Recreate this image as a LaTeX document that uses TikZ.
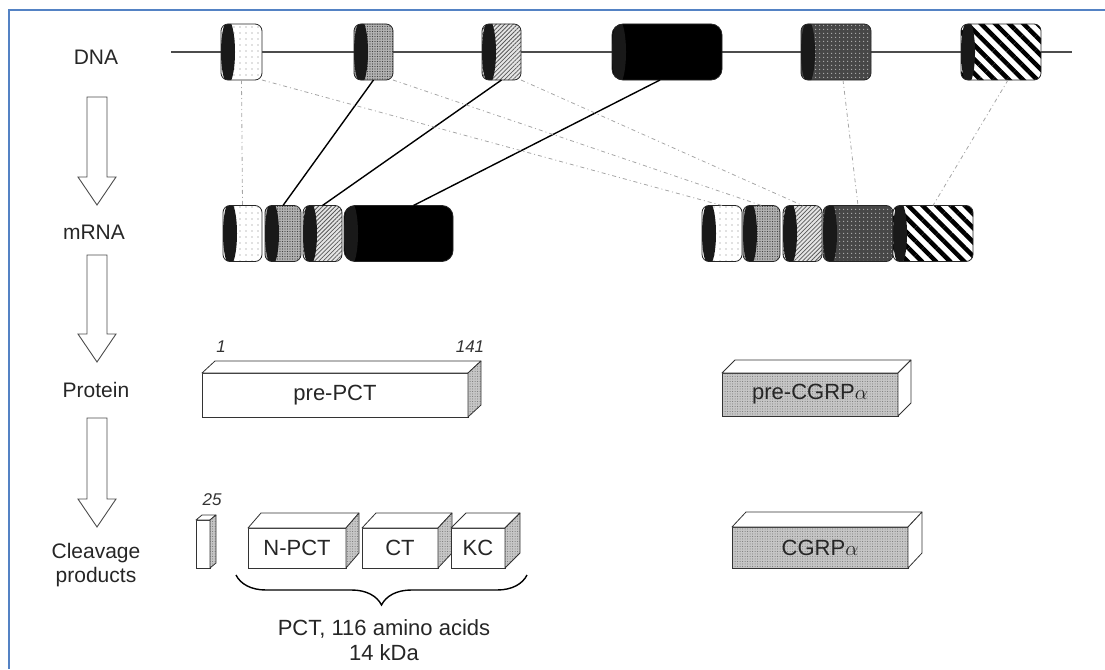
\documentclass[tikz,border=0pt]{standalone}
\usepackage{fontspec}
\setmainfont{Liberation Sans}
\usepackage{tikz}
\usetikzlibrary{positioning,calc,patterns.meta,decorations.pathreplacing}
\definecolor{frameblue}{RGB}{84,130,196}
\newcommand{\capr}{7pt}
% top and side faces of a flat 3D box drawn on a node
\newcommand{\boxfaces}[5]{%
  \draw[facedraw, #4] (#1.north west) -- ++(#2,-#3) -- ($(#1.north east)+(#2,-#3)$) -- (#1.north east) -- cycle;
  \draw[facedraw, #5] (#1.north east) -- ++(#2,-#3) -- ($(#1.south east)+(#2,-#3)$) -- (#1.south east) -- cycle;}
% hollow downward block arrow: x, tail y, tip y
\newcommand{\flowarrow}[3]{%
  \draw[blockarrow] (#1-10,#2) -- (#1+10,#2) -- (#1+10,#3-28) -- (#1+19,#3-28) -- (#1,#3)
                    -- (#1-19,#3-28) -- (#1-10,#3-28) -- cycle;}
\tikzset{%
  % Specifications for style of exons:
            exon/.style = {rectangle, rounded corners=7pt, draw=black!85,
                           line width=0.8pt, inner sep=0pt, outer sep=0pt,
                           minimum height=56pt,
                           path picture={\fill[black!90] ([xshift=\capr]path picture bounding box.west)
                                         ellipse [x radius=\capr, y radius=32pt];}},
          exdots/.style = {preaction={fill=white}, pattern={Dots[distance=6pt,radius=0.6pt]},
                           pattern color=black!50},
         exgrain/.style = {preaction={fill=gray!60}, pattern={Dots[distance=2.5pt,radius=0.55pt]},
                           pattern color=black!75},
         exhatch/.style = {preaction={fill=gray!20}, pattern={Lines[angle=45,distance=3pt,line width=0.8pt]},
                           pattern color=black!65},
         exblack/.style = {fill=black, rounded corners=11pt},
         exspeck/.style = {preaction={fill=black!72}, pattern={Dots[distance=4pt,radius=0.8pt]},
                           pattern color=gray!60},
        exstripe/.style = {preaction={fill=white}, pattern={Lines[angle=-45,distance=10pt,line width=4.5pt]},
                           pattern color=black},
  % Specifications for style of protein boxes:
         facebox/.style = {rectangle, draw=black!80, line width=0.8pt, inner sep=0pt, outer sep=0pt,
                           font=\fontsize{22}{26}\selectfont, text=black!85},
        facedraw/.style = {draw=black!80, line width=0.8pt, line join=round},
       facewhite/.style = {fill=white},
        facegray/.style = {preaction={fill=gray!45}, pattern={Dots[distance=2.5pt,radius=0.5pt]},
                           pattern color=black!55},
  % lines and labels
          strand/.style = {draw=black!70, line width=1.2pt},
          splice/.style = {draw=black, line width=1.4pt},
        skipline/.style = {draw=gray!70, line width=0.8pt, dash pattern=on 4pt off 3pt on 1pt off 3pt},
      blockarrow/.style = {draw=black!70, line width=0.9pt, fill=white, line join=miter},
        rowlabel/.style = {font=\fontsize{21}{24}\selectfont, text=black!85, align=center},
          resnum/.style = {font=\fontsize{17}{20}\selectfont\itshape, text=black!80},
        pctbrace/.style = {decorate, decoration={brace, amplitude=30pt, mirror}, line width=1.4pt},
        framebox/.style = {draw=frameblue, line width=2pt}
                           }

\begin{document}
\begin{tikzpicture}[x=1pt, y=-1pt]
  \useasboundingbox (0,0) rectangle (1105,669);
  \draw[framebox] (1105,10) -| (9,669);

  % row labels and arrows
  \node (dnalbl)   [rowlabel] at (96,57)  {DNA};
  \node (mrnalbl)  [rowlabel] at (94,232) {mRNA};
  \node (protlbl)  [rowlabel] at (96,390) {Protein};
  \node (cleavlbl) [rowlabel] at (96,565) {Cleavage\\products};
  \flowarrow{97}{97}{205}
  \flowarrow{97}{255}{362}
  \flowarrow{97}{418}{527}

  % DNA with six exons
  \coordinate (dnastart) at (171,52);
  \coordinate (dnaend)   at (1072,52);
  \draw[strand] (dnastart) -- (dnaend);
  \node (d1) [exon, exdots,   minimum width=41pt]  at (241.5,52) {};
  \node (d2) [exon, exgrain,  minimum width=39pt]  at (373.5,52) {};
  \node (d3) [exon, exhatch,  minimum width=39pt]  at (501.5,52) {};
  \node (d4) [exon, exblack,  minimum width=110pt] at (667,52)   {};
  \node (d5) [exon, exspeck,  minimum width=70pt]  at (836,52)   {};
  \node (d6) [exon, exstripe, minimum width=80pt]  at (1001,52)  {};

  % mRNA of PCT
  \node (m1) [exon, exdots,  minimum width=39pt]  at (242.5,233.5) {};
  \node (m2) [exon, exgrain, minimum width=36pt,  right=3pt of m1] {};
  \node (m3) [exon, exhatch, minimum width=39pt,  right=2pt of m2] {};
  \node (m4) [exon, exblack, minimum width=109pt, right=2pt of m3] {};

  % mRNA of CGRP
  \node (r1) [exon, exdots,   minimum width=40pt] at (722,233.5) {};
  \node (r2) [exon, exgrain,  minimum width=37pt, right=1pt of r1] {};
  \node (r3) [exon, exhatch,  minimum width=39pt, right=3pt of r2] {};
  \node (r5) [exon, exspeck,  minimum width=70pt, right=1pt of r3] {};
  \node (r6) [exon, exstripe, minimum width=80pt, right=0pt of r5] {};

  % splicing
  \draw[skipline] (d1.south) -- (m1.north);
  \draw[splice] (d2.south) -- (m2.north);
  \draw[splice] (d3.south) -- (m3.north);
  \draw[splice] ($(d4.south)+(-7,0)$) -- ($(m4.north)+(15,0)$);
  \draw[skipline] (d1.south east) -- (r1.north);
  \draw[skipline] (d2.south east) -- (r2.north);
  \draw[skipline] (d3.south east) -- (r3.north);
  \draw[skipline] ($(d5.south)+(7,0)$) -- (r5.north);
  \draw[skipline] ($(d6.south)+(7,0)$) -- (r6.north);

  % proteins
  \node (prepct) [facebox, facewhite, minimum width=266pt, minimum height=44pt] at (335,395) {pre-PCT};
  \boxfaces{prepct}{13}{12}{facewhite}{facegray}
  \node (first) [resnum] at (221,347) {1};
  \node (last)  [resnum] at (470,347) {141};

  \node (precgrp) [facebox, facegray, minimum width=176pt, minimum height=43pt] at (810,394.5) {pre-CGRP$\alpha$};
  \boxfaces{precgrp}{13}{13}{facewhite}{facewhite}

  % cleavage products
  \node (sig) [facebox, facewhite, minimum width=14pt, minimum height=48pt] at (203,544) {};
  \boxfaces{sig}{6}{5}{facewhite}{facegray}
  \node (cut) [resnum] at (212,500) {25};
  \node (npct) [facebox, facewhite, minimum width=98pt, minimum height=40pt] at (297,548) {N-PCT};
  \boxfaces{npct}{13}{15}{facewhite}{facegray}
  \node (ct) [facebox, facewhite, minimum width=76pt, minimum height=40pt] at (400,548) {CT};
  \boxfaces{ct}{14}{15}{facewhite}{facegray}
  \node (kc) [facebox, facewhite, minimum width=54pt, minimum height=40pt] at (478,548) {KC};
  \boxfaces{kc}{15}{15}{facewhite}{facegray}

  \node (cgrp) [facebox, facegray, minimum width=176pt, minimum height=41pt] at (820,547.5) {CGRP$\alpha$};
  \boxfaces{cgrp}{14}{15}{facewhite}{facewhite}

  \draw[pctbrace] ($(npct.south west)+(-12,7)$) -- ($(kc.south east)+(22,7)$);
  \node (pctinfo) [rowlabel, font=\fontsize{22}{25}\selectfont] at (384,640) {PCT, 116 amino acids\\14 kDa};
\end{tikzpicture}
\end{document}
